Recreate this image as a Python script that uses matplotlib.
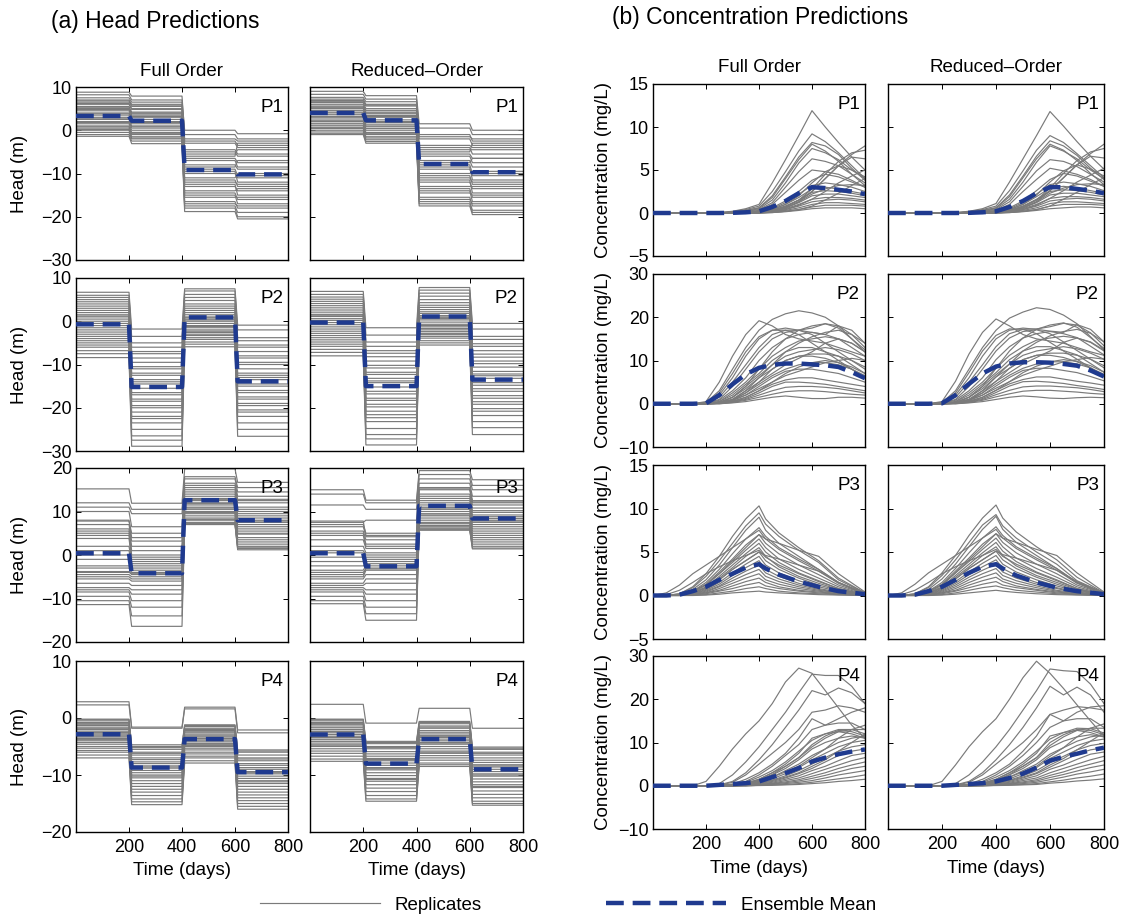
import numpy as np
import matplotlib
matplotlib.use("Agg")
import matplotlib.pyplot as plt
from matplotlib.lines import Line2D

plt.rcParams['font.family'] = ['Liberation Sans', 'DejaVu Sans']

W, H = 1125, 918

# ---------------- data ----------------
time_ticks = [200, 400, 600, 800]
head_period_start = [0, 210, 410, 610]
head_period_end = [200, 400, 600, 800]

head_p1_full = [
    [8.8, 7.9, -1.0, -2.0], [8.2, 7.0, 0.0, -0.8], [7.5, 6.5, -2.5, -3.5], [7.0, 6.0, -3.0, -4.0],
    [6.8, 5.5, -4.5, -5.5], [6.2, 5.0, -5.0, -6.0], [6.0, 4.8, -6.0, -3.0], [5.5, 4.2, -6.5, -7.5],
    [5.0, 4.0, -7.0, -8.5], [4.8, 3.5, -8.0, -9.0], [4.5, 3.0, -8.5, -7.0], [4.0, 3.2, -9.0, -10.5],
    [3.8, 2.5, -10.0, -11.0], [3.5, 2.0, -9.5, -12.0], [3.0, 1.8, -11.0, -10.0], [2.8, 1.5, -11.5, -13.0],
    [2.5, 1.0, -12.0, -12.5], [2.0, 0.8, -13.0, -14.0], [1.8, 0.5, -12.5, -15.0], [1.5, 0.0, -14.0, -13.5],
    [1.0, -0.5, -14.5, -16.0], [0.8, -1.0, -15.5, -15.5], [0.5, -0.8, -15.0, -17.0], [0.2, -1.5, -16.5, -18.0],
    [0.0, -1.8, -17.0, -17.5], [-0.5, -2.0, -17.5, -19.0], [-1.0, -2.5, -18.0, -20.0], [-1.4, -3.1, -18.8, -20.5],
    [6.5, 5.8, -2.0, -2.5], [5.2, 3.8, -5.5, -4.5],
]
head_p1_full_mean = [3.3, 2.2, -9.2, -10.2]

head_p1_red = [
    [9.0, 8.0, 1.5, 0.0], [8.3, 7.2, 0.5, -1.0], [7.6, 6.6, -1.0, -2.5], [7.2, 6.0, -2.0, -3.5],
    [6.9, 5.6, -3.5, -4.0], [6.4, 5.0, -4.0, -5.5], [6.0, 4.6, -5.0, -3.0], [5.6, 4.2, -5.5, -6.5],
    [5.2, 4.0, -6.0, -7.5], [5.0, 3.4, -7.0, -8.5], [4.6, 3.0, -7.5, -6.5], [4.2, 3.2, -8.0, -10.0],
    [4.0, 2.4, -9.0, -10.5], [3.6, 2.0, -8.5, -11.5], [3.2, 1.8, -10.0, -9.5], [3.0, 1.4, -10.5, -12.5],
    [2.6, 1.0, -11.0, -12.0], [2.2, 0.8, -12.0, -13.5], [2.0, 0.4, -11.5, -14.5], [1.6, 0.0, -13.0, -13.0],
    [1.2, -0.5, -13.5, -15.5], [1.0, -1.0, -14.5, -15.0], [0.6, -0.8, -14.0, -16.5], [0.4, -1.5, -15.5, -17.5],
    [0.0, -1.8, -16.0, -17.0], [-0.4, -2.2, -16.5, -18.5], [-0.8, -2.6, -17.0, -19.0], [-1.0, -3.0, -17.5, -19.5],
    [6.6, 5.8, -1.5, -2.0], [5.4, 3.8, -4.5, -4.5],
]
head_p1_red_mean = [4.0, 2.3, -7.8, -9.7]

head_p2_full = [
    [6.7, -1.8, 7.5, -0.9], [6.0, -3.5, 7.0, -2.0], [5.5, -5.0, 6.2, -3.8], [5.0, -6.0, 5.5, -4.5],
    [4.5, -7.0, 4.8, -5.5], [4.0, -7.5, 4.0, -6.0], [3.5, -8.5, 3.5, -7.0], [3.0, -9.5, 3.0, -8.0],
    [2.5, -10.5, 2.5, -8.5], [2.0, -11.0, 2.0, -9.5], [1.5, -12.0, 1.5, -10.0], [1.0, -12.5, 1.0, -11.0],
    [0.5, -13.5, 0.8, -12.0], [0.0, -14.5, 0.3, -12.5], [-0.5, -15.5, 0.0, -13.5], [-1.0, -16.5, -0.5, -14.5],
    [-1.5, -17.0, -1.0, -15.0], [-2.0, -18.0, -1.2, -16.0], [-2.5, -18.5, -1.5, -16.5], [-3.0, -19.5, -2.0, -17.5],
    [-3.5, -20.0, -2.3, -18.0], [-4.0, -21.0, -2.6, -19.0], [-4.5, -22.0, -3.0, -19.5], [-5.0, -22.5, -3.3, -20.5],
    [-5.5, -23.5, -3.8, -21.0], [-6.0, -25.0, -4.2, -22.0], [-6.8, -26.5, -4.8, -23.5], [-7.5, -27.5, -5.3, -25.0],
    [-8.4, -28.9, -5.9, -26.6], [1.2, -14.0, 0.5, -13.0],
]
head_p2_full_mean = [-0.7, -15.2, 0.9, -13.9]

head_p2_red = [
    [6.9, -1.5, 7.8, -0.5], [6.2, -3.2, 7.2, -1.8], [5.6, -4.8, 6.5, -3.5], [5.1, -5.8, 5.8, -4.2],
    [4.6, -6.8, 5.0, -5.2], [4.1, -7.4, 4.3, -5.8], [3.6, -8.2, 3.7, -6.8], [3.1, -9.2, 3.2, -7.6],
    [2.6, -10.2, 2.7, -8.3], [2.1, -10.8, 2.2, -9.2], [1.6, -11.8, 1.8, -9.8], [1.1, -12.3, 1.3, -10.6],
    [0.6, -13.2, 1.0, -11.6], [0.2, -14.2, 0.6, -12.2], [-0.3, -15.2, 0.3, -13.2], [-0.8, -16.2, -0.2, -14.2],
    [-1.3, -16.8, -0.7, -14.8], [-1.8, -17.8, -1.0, -15.6], [-2.3, -18.3, -1.3, -16.2], [-2.8, -19.2, -1.7, -17.2],
    [-3.3, -19.8, -2.0, -17.8], [-3.8, -20.8, -2.4, -18.6], [-4.3, -21.6, -2.8, -19.2], [-4.8, -22.3, -3.1, -20.2],
    [-5.3, -23.2, -3.5, -20.8], [-5.8, -24.8, -3.9, -21.8], [-6.5, -26.2, -4.5, -23.2], [-7.2, -27.2, -5.0, -24.6],
    [-8.0, -28.6, -5.5, -26.2], [1.4, -13.8, 0.8, -12.6],
]
head_p2_red_mean = [-0.3, -15.0, 1.1, -13.5]

head_p3_full = [
    [15.2, 11.9, 19.8, 16.7], [12.0, 10.5, 18.0, 15.5], [11.0, 9.5, 17.5, 14.5], [10.0, 6.5, 16.5, 13.5],
    [7.8, 5.0, 16.0, 12.5], [7.0, 3.2, 15.0, 12.0], [6.0, 2.0, 14.5, 11.0], [5.5, 1.0, 14.0, 10.5],
    [5.0, 0.0, 13.5, 10.0], [4.5, -0.5, 13.0, 9.5], [3.8, -1.0, 12.8, 9.0], [2.0, -1.5, 12.5, 8.5],
    [1.0, -2.0, 12.0, 8.0], [0.0, -2.5, 11.5, 7.5], [-1.0, -3.0, 11.0, 7.0], [-2.5, -3.5, 10.8, 6.5],
    [-3.0, -4.0, 10.5, 6.0], [-3.8, -4.5, 10.0, 5.5], [-4.5, -5.0, 9.8, 5.0], [-5.0, -5.5, 9.5, 4.8],
    [-5.5, -6.0, 9.0, 4.0], [-6.5, -7.0, 8.5, 3.5], [-7.5, -8.0, 8.2, 3.0], [-8.0, -9.0, 8.0, 2.5],
    [-8.5, -10.5, 7.5, 2.0], [-9.5, -12.0, 7.2, 1.8], [-10.5, -14.0, 7.1, 1.5], [-11.4, -16.4, 7.0, 1.2],
    [8.0, 4.0, 15.5, 12.8], [-4.0, -4.2, 11.8, 7.8],
]
head_p3_full_mean = [0.4, -4.2, 12.6, 8.0]

head_p3_red = [
    [15.0, 12.6, 19.4, 17.3], [14.0, 12.0, 18.5, 16.0], [11.5, 10.5, 17.5, 15.0], [7.5, 8.0, 16.5, 13.5],
    [7.0, 5.0, 15.5, 12.5], [6.5, 4.5, 15.0, 12.0], [5.5, 3.5, 14.0, 11.5], [5.0, 2.5, 13.5, 10.8],
    [4.5, 2.0, 13.0, 10.2], [3.5, 1.5, 12.5, 9.8], [2.0, 0.5, 12.0, 9.2], [1.0, 0.0, 11.5, 8.8],
    [0.5, -0.5, 11.0, 8.4], [-0.5, -1.0, 10.5, 8.0], [-1.5, -1.5, 10.0, 7.5], [-2.5, -2.0, 9.5, 7.0],
    [-3.5, -2.5, 9.2, 6.5], [-4.5, -3.0, 9.0, 6.0], [-5.0, -3.5, 8.5, 5.5], [-5.5, -4.5, 8.0, 5.0],
    [-6.5, -5.5, 7.5, 4.5], [-7.0, -6.5, 7.2, 4.0], [-7.5, -8.0, 6.8, 3.5], [-8.0, -9.0, 6.5, 3.0],
    [-8.5, -10.5, 6.2, 2.5], [-9.5, -12.0, 6.0, 2.0], [-10.5, -13.5, 5.8, 1.6], [-11.2, -15.0, 5.7, 1.4],
    [7.8, 4.2, 15.2, 12.2], [-4.0, -3.2, 10.8, 7.8],
]
head_p3_red_mean = [0.4, -2.6, 11.3, 8.4]

head_p4_full = [
    [2.85, -1.6, 1.9, -2.1], [2.3, -1.8, 1.6, -2.6],
    [-0.2, -4.7, -1.2, -5.6], [-0.5, -5.0, -1.5, -6.0], [-0.8, -5.5, -1.8, -6.5], [-1.0, -6.0, -2.0, -7.0],
    [-1.3, -6.5, -2.3, -7.5], [-1.6, -7.0, -2.5, -8.0], [-1.8, -7.3, -2.8, -8.3], [-2.0, -7.7, -3.0, -8.7],
    [-2.3, -8.0, -3.2, -9.0], [-2.5, -8.4, -3.5, -9.4], [-2.8, -8.8, -3.7, -9.8], [-3.0, -9.2, -4.0, -10.2],
    [-3.2, -9.6, -4.2, -10.6], [-3.5, -10.0, -4.5, -11.0], [-3.8, -10.5, -4.8, -11.5], [-4.0, -11.0, -5.0, -12.0],
    [-4.3, -11.5, -5.3, -12.5], [-4.6, -12.0, -5.6, -13.0], [-5.0, -12.5, -6.0, -13.5], [-5.3, -13.0, -6.3, -14.0],
    [-5.7, -13.6, -6.7, -14.5], [-6.0, -14.2, -7.0, -15.0], [-6.5, -14.7, -7.5, -15.5], [-7.0, -15.2, -7.9, -16.0],
    [-1.2, -6.2, -2.2, -7.2], [-2.6, -8.6, -3.6, -9.6], [-3.6, -10.2, -4.6, -11.2], [-0.3, -5.2, -1.3, -5.8],
]
head_p4_full_mean = [-2.85, -8.7, -3.7, -9.5]

head_p4_red = [
    [2.4, -0.9, 1.7, -1.8],
    [-0.2, -4.1, -0.6, -5.1], [-0.5, -4.5, -1.0, -5.5], [-0.8, -5.0, -1.4, -6.0], [-1.1, -5.4, -1.8, -6.5],
    [-1.4, -5.9, -2.2, -7.0], [-1.7, -6.3, -2.5, -7.4], [-2.0, -6.7, -2.8, -7.8], [-2.3, -7.1, -3.1, -8.2],
    [-2.6, -7.5, -3.4, -8.6], [-2.9, -7.9, -3.7, -9.0], [-3.2, -8.3, -4.0, -9.4], [-3.5, -8.7, -4.3, -9.8],
    [-3.8, -9.1, -4.6, -10.2], [-4.1, -9.6, -5.0, -10.7], [-4.4, -10.1, -5.4, -11.2], [-4.7, -10.6, -5.8, -11.7],
    [-5.0, -11.1, -6.2, -12.2], [-5.4, -11.7, -6.6, -12.8], [-5.8, -12.3, -7.0, -13.4], [-6.2, -12.9, -7.4, -14.0],
    [-6.7, -13.6, -7.9, -14.6], [-7.2, -14.2, -8.2, -15.0], [-7.6, -14.6, -8.5, -15.3], [-1.0, -5.2, -1.6, -6.2],
    [-2.4, -7.3, -3.3, -8.4], [-3.4, -8.9, -4.4, -10.0], [-0.3, -4.3, -0.8, -5.3], [-4.9, -10.8, -6.0, -12.0],
]
head_p4_red_mean = [-2.9, -8.0, -3.7, -9.0]

# concentration data (time grids per well)
conc_p1_time = [0, 250, 300, 350, 400, 450, 500, 550, 600, 650, 700, 750, 800]
conc_p1_full = [
    [0, 0.05, 0.2, 0.5, 1.0, 3.5, 6.2, 9.0, 11.9, 10.0, 8.2, 6.5, 5.0],
    [0, 0.03, 0.15, 0.4, 0.8, 2.5, 4.8, 7.2, 9.2, 8.3, 7.0, 5.5, 4.0],
    [0, 0.02, 0.1, 0.3, 0.6, 2.0, 4.2, 6.5, 8.2, 7.8, 6.8, 5.2, 3.8],
    [0, 0.02, 0.1, 0.3, 0.6, 1.8, 4.0, 6.2, 8.0, 7.2, 6.0, 4.5, 3.2],
    [0, 0, 0.08, 0.2, 0.5, 1.5, 3.5, 5.8, 7.5, 7.0, 6.2, 5.0, 4.0],
    [0, 0, 0.05, 0.2, 0.4, 1.2, 3.0, 4.8, 6.3, 6.0, 5.5, 4.5, 3.5],
    [0, 0, 0.05, 0.15, 0.3, 1.0, 2.4, 3.8, 5.0, 4.8, 4.5, 3.8, 3.0],
    [0, 0, 0, 0.05, 0.1, 0.3, 0.8, 1.5, 2.5, 4.0, 5.5, 6.8, 7.8],
    [0, 0, 0, 0.05, 0.1, 0.3, 0.7, 1.5, 2.8, 4.5, 6.0, 7.0, 7.3],
    [0, 0, 0, 0, 0.05, 0.2, 0.6, 1.3, 2.5, 4.0, 5.5, 6.5, 6.3],
    [0, 0, 0, 0.05, 0.1, 0.4, 1.0, 2.0, 3.5, 4.8, 5.5, 5.0, 4.2],
    [0, 0, 0.02, 0.1, 0.2, 0.6, 1.4, 2.5, 3.8, 4.5, 4.2, 3.6, 3.0],
    [0, 0, 0.02, 0.08, 0.15, 0.5, 1.2, 2.2, 3.2, 3.5, 3.3, 3.0, 2.5],
    [0, 0, 0, 0.05, 0.1, 0.4, 1.0, 1.8, 2.8, 3.0, 2.8, 2.5, 2.2],
    [0, 0, 0, 0.03, 0.08, 0.3, 0.8, 1.5, 2.4, 2.6, 2.5, 2.3, 2.0],
    [0, 0, 0, 0.02, 0.05, 0.2, 0.6, 1.2, 2.0, 2.2, 2.2, 2.0, 1.8],
    [0, 0, 0, 0.02, 0.05, 0.2, 0.5, 1.0, 1.6, 1.8, 1.8, 1.7, 1.5],
    [0, 0, 0, 0, 0.03, 0.1, 0.4, 0.8, 1.3, 1.5, 1.6, 1.5, 1.3],
    [0, 0, 0, 0, 0.02, 0.1, 0.3, 0.6, 1.0, 1.2, 1.2, 1.1, 1.0],
    [0, 0, 0, 0, 0.02, 0.08, 0.2, 0.4, 0.7, 0.9, 0.9, 0.9, 0.8],
    [0, 0, 0, 0, 0, 0.05, 0.15, 0.3, 0.5, 0.6, 0.6, 0.6, 0.5],
    [0, 0, 0, 0, 0.05, 0.15, 0.4, 0.9, 1.6, 2.5, 3.5, 4.3, 5.0],
    [0, 0, 0, 0, 0, 0.05, 0.2, 0.4, 0.8, 1.5, 2.3, 3.2, 4.0],
    [0, 0, 0, 0.02, 0.05, 0.2, 0.6, 1.3, 2.2, 2.8, 3.2, 3.3, 3.2],
]
conc_p1_full_mean = [0, 0, 0.02, 0.08, 0.2, 0.7, 1.4, 2.3, 3.0, 2.9, 2.7, 2.5, 2.2]

conc_p1_red = [
    [0, 0.05, 0.2, 0.5, 1.1, 3.6, 6.3, 9.0, 11.8, 10.1, 8.3, 6.6, 5.1],
    [0, 0.03, 0.15, 0.4, 0.8, 2.6, 4.9, 7.3, 9.0, 8.2, 6.9, 5.5, 4.1],
    [0, 0.02, 0.1, 0.3, 0.6, 2.1, 4.3, 6.6, 8.4, 7.8, 6.7, 5.2, 3.9],
    [0, 0.02, 0.1, 0.3, 0.6, 1.9, 4.1, 6.3, 8.0, 7.3, 6.1, 4.6, 3.3],
    [0, 0, 0.08, 0.2, 0.5, 1.6, 3.6, 5.9, 7.8, 7.2, 6.3, 5.0, 4.0],
    [0, 0, 0.05, 0.2, 0.4, 1.3, 3.1, 4.9, 6.2, 6.0, 5.4, 4.5, 3.6],
    [0, 0, 0.05, 0.15, 0.3, 1.0, 2.5, 3.9, 5.2, 4.9, 4.5, 3.9, 3.1],
    [0, 0, 0, 0.05, 0.1, 0.3, 0.8, 1.6, 2.6, 4.1, 5.6, 6.9, 8.0],
    [0, 0, 0, 0.05, 0.1, 0.3, 0.7, 1.5, 2.9, 4.6, 6.1, 7.1, 7.5],
    [0, 0, 0, 0, 0.05, 0.2, 0.6, 1.3, 2.6, 4.1, 5.6, 6.6, 6.4],
    [0, 0, 0, 0.05, 0.1, 0.4, 1.0, 2.1, 3.6, 4.9, 5.6, 5.1, 4.3],
    [0, 0, 0.02, 0.1, 0.2, 0.6, 1.4, 2.6, 3.9, 4.6, 4.3, 3.7, 3.1],
    [0, 0, 0.02, 0.08, 0.15, 0.5, 1.2, 2.2, 3.3, 3.6, 3.4, 3.1, 2.6],
    [0, 0, 0, 0.05, 0.1, 0.4, 1.0, 1.9, 2.9, 3.1, 2.9, 2.6, 2.3],
    [0, 0, 0, 0.03, 0.08, 0.3, 0.8, 1.5, 2.5, 2.7, 2.6, 2.4, 2.1],
    [0, 0, 0, 0.02, 0.05, 0.2, 0.6, 1.2, 2.1, 2.3, 2.3, 2.1, 1.9],
    [0, 0, 0, 0.02, 0.05, 0.2, 0.5, 1.0, 1.7, 1.9, 1.9, 1.8, 1.6],
    [0, 0, 0, 0, 0.03, 0.1, 0.4, 0.8, 1.4, 1.6, 1.7, 1.6, 1.4],
    [0, 0, 0, 0, 0.02, 0.1, 0.3, 0.6, 1.1, 1.3, 1.3, 1.2, 1.1],
    [0, 0, 0, 0, 0.02, 0.08, 0.2, 0.4, 0.8, 1.0, 1.0, 1.0, 0.9],
    [0, 0, 0, 0, 0, 0.05, 0.15, 0.3, 0.5, 0.6, 0.7, 0.7, 0.6],
    [0, 0, 0, 0, 0.05, 0.15, 0.4, 0.9, 1.7, 2.6, 3.6, 4.4, 5.2],
    [0, 0, 0, 0, 0, 0.05, 0.2, 0.4, 0.8, 1.6, 2.4, 3.3, 4.1],
    [0, 0, 0, 0.02, 0.05, 0.2, 0.6, 1.3, 2.3, 2.9, 3.3, 3.4, 3.3],
]
conc_p1_red_mean = [0, 0, 0.02, 0.08, 0.2, 0.7, 1.4, 2.3, 3.0, 3.0, 2.8, 2.6, 2.3]

conc_p2_time = [0, 150, 200, 250, 300, 350, 400, 450, 500, 550, 600, 650, 700, 750, 800]
conc_p2_full = [
    [0, 0, 0.5, 5, 11, 16, 19.2, 18, 16, 15, 14.5, 14, 13, 12, 11],
    [0, 0, 0.3, 3, 8, 13, 17, 19.5, 20.8, 21.5, 21, 20, 18, 15, 12],
    [0, 0, 0.2, 2, 6, 11, 15, 17, 17.5, 17, 16.5, 16, 18, 17, 14],
    [0, 0, 0.1, 1.5, 5, 9, 13, 16, 17, 17, 17.5, 18.5, 18, 16, 13],
    [0, 0, 0.1, 1, 4, 8, 12, 15, 16.5, 17, 16, 14, 12, 10, 8],
    [0, 0, 0.05, 0.8, 3, 6, 10, 13, 15, 16, 16.5, 16, 15, 13, 11],
    [0, 0, 0.05, 0.5, 2.5, 5, 8, 11, 13, 14.5, 15, 15.5, 15, 14, 12],
    [0, 0, 0.05, 0.5, 2, 4.5, 7, 10, 12, 13, 13, 12, 11, 9, 7],
    [0, 0, 0, 0.3, 1.5, 4, 6.5, 9, 11, 12, 12.5, 13, 12.5, 11.5, 10],
    [0, 0, 0, 0.3, 1.5, 3.5, 6, 8, 10, 11, 11, 10.5, 9.5, 8, 6.5],
    [0, 0, 0, 0.2, 1, 3, 5, 7, 9, 10.5, 12, 14, 15, 14, 12],
    [0, 0, 0, 0.2, 1, 2.5, 4.5, 6.5, 8, 9, 9.5, 9.5, 9, 8, 6],
    [0, 0, 0, 0.2, 0.8, 2, 4, 6, 7.5, 8, 8, 7.5, 7, 6, 5],
    [0, 0, 0, 0.1, 0.8, 2, 3.5, 5, 6.5, 7.5, 8.5, 9.5, 10, 10.5, 10],
    [0, 0, 0, 0.1, 0.6, 1.5, 3, 4.5, 5.5, 6, 6, 5.5, 5, 4.5, 4],
    [0, 0, 0, 0.1, 0.5, 1.2, 2.5, 4, 5, 5, 4.8, 4.5, 4, 3.5, 3],
    [0, 0, 0, 0.1, 0.4, 1, 2, 3, 3.8, 4, 4, 3.8, 3.5, 3, 2.5],
    [0, 0, 0, 0, 0.3, 0.8, 1.5, 2.2, 2.8, 3, 3, 2.8, 2.5, 2.2, 2],
    [0, 0, 0, 0, 0.2, 0.5, 1, 1.5, 1.8, 1.5, 1.2, 1.2, 1.5, 1.5, 1.3],
    [0, 0, 0, 0.2, 1.5, 4, 8, 12, 15, 17, 18, 18.5, 17.5, 15, 12.5],
    [0, 0, 0, 0.1, 1, 3, 6, 9, 12, 14, 15.5, 16.5, 17, 16, 14],
    [0, 0, 0, 0.1, 0.8, 2.5, 5, 8, 10, 11, 11.5, 11.5, 11, 10, 8.5],
    [0, 0, 0.2, 2.5, 7, 12, 15.5, 17, 17, 16, 14, 12, 10, 8, 6],
    [0, 0, 0, 0.1, 0.5, 1.5, 3, 5, 7, 8.5, 9.5, 10, 9.5, 8.5, 7],
]
conc_p2_full_mean = [0, 0, 0.1, 2.0, 4.5, 6.8, 8.3, 9.0, 9.3, 9.3, 9.1, 8.9, 8.5, 7.3, 5.9]

conc_p2_red = [
    [0, 0, 0.5, 5.2, 11.5, 16.5, 19.6, 18, 16, 15, 14.5, 14, 13, 12, 11.2],
    [0, 0, 0.3, 3, 8, 13, 17, 19.8, 21.2, 22.2, 21.8, 20.5, 18.5, 15.5, 12.5],
    [0, 0, 0.2, 2, 6, 11, 15, 17, 17.5, 17.2, 16.8, 16.5, 18.3, 17.2, 14.3],
    [0, 0, 0.1, 1.5, 5, 9, 13.2, 16.2, 17.2, 17.3, 17.8, 18.6, 18.2, 16.4, 13.4],
    [0, 0, 0.1, 1, 4, 8, 12.2, 15.2, 16.7, 17.1, 16.2, 14.3, 12.3, 10.3, 8.3],
    [0, 0, 0.05, 0.8, 3, 6, 10.2, 13.2, 15.2, 16.2, 16.7, 16.2, 15.3, 13.3, 11.3],
    [0, 0, 0.05, 0.5, 2.5, 5, 8.2, 11.2, 13.2, 14.7, 15.2, 15.6, 15.2, 14.2, 12.2],
    [0, 0, 0.05, 0.5, 2, 4.5, 7.2, 10.2, 12.2, 13.2, 13.2, 12.3, 11.3, 9.3, 7.3],
    [0, 0, 0, 0.3, 1.5, 4, 6.7, 9.2, 11.2, 12.2, 12.7, 13.2, 12.7, 11.7, 10.3],
    [0, 0, 0, 0.3, 1.5, 3.5, 6.2, 8.2, 10.2, 11.2, 11.2, 10.7, 9.7, 8.3, 6.8],
    [0, 0, 0, 0.2, 1, 3, 5.2, 7.2, 9.2, 10.7, 12.2, 14.2, 15.2, 14.3, 12.4],
    [0, 0, 0, 0.2, 1, 2.5, 4.6, 6.6, 8.2, 9.2, 9.7, 9.7, 9.2, 8.3, 6.4],
    [0, 0, 0, 0.2, 0.8, 2, 4.1, 6.1, 7.7, 8.2, 8.2, 7.7, 7.2, 6.3, 5.3],
    [0, 0, 0, 0.1, 0.8, 2, 3.6, 5.1, 6.6, 7.7, 8.7, 9.7, 10.2, 10.7, 10.3],
    [0, 0, 0, 0.1, 0.6, 1.5, 3.1, 4.6, 5.6, 6.2, 6.2, 5.7, 5.2, 4.8, 4.3],
    [0, 0, 0, 0.1, 0.5, 1.2, 2.6, 4.1, 5.1, 5.2, 5.0, 4.7, 4.2, 3.8, 3.3],
    [0, 0, 0, 0.1, 0.4, 1, 2.1, 3.1, 3.9, 4.1, 4.1, 3.9, 3.7, 3.3, 2.8],
    [0, 0, 0, 0, 0.3, 0.8, 1.6, 2.3, 2.9, 3.1, 3.1, 2.9, 2.7, 2.4, 2.2],
    [0, 0, 0, 0, 0.2, 0.5, 1, 1.5, 1.8, 1.6, 1.3, 1.2, 1.4, 1.5, 1.4],
    [0, 0, 0, 0.2, 1.5, 4, 8.2, 12.2, 15.2, 17.2, 18.2, 18.7, 17.7, 15.3, 12.8],
    [0, 0, 0, 0.1, 1, 3, 6.2, 9.2, 12.2, 14.2, 15.7, 16.7, 17.2, 16.3, 14.3],
    [0, 0, 0, 0.1, 0.8, 2.5, 5.2, 8.2, 10.2, 11.2, 11.7, 11.7, 11.2, 10.3, 8.8],
    [0, 0, 0.2, 2.5, 7.2, 12.2, 15.8, 17.3, 17.2, 16.2, 14.2, 12.2, 10.3, 8.3, 6.3],
    [0, 0, 0, 0.1, 0.5, 1.5, 3.1, 5.1, 7.2, 8.7, 9.7, 10.2, 9.8, 8.8, 7.3],
]
conc_p2_red_mean = [0, 0, 0.1, 2.0, 4.6, 7.0, 8.6, 9.3, 9.6, 9.6, 9.5, 9.2, 8.8, 7.7, 6.3]

conc_p3_time = [0, 50, 100, 150, 200, 250, 300, 350, 400, 425, 475, 550, 625, 700, 800]
conc_p3_full = [
    [0, 0, 0.2, 1.0, 2.5, 4.5, 6.8, 8.8, 10.3, 8.8, 7.2, 5.5, 4.0, 2.0, 0.3],
    [0, 0, 0.2, 0.9, 2.2, 4.0, 6.0, 8.0, 9.5, 8.2, 6.8, 5.2, 3.8, 1.8, 0.3],
    [0, 0, 0.1, 0.7, 1.8, 3.5, 5.5, 7.5, 9.0, 7.5, 6.0, 4.5, 3.0, 1.5, 0.2],
    [0, 0.3, 1.2, 2.5, 3.5, 4.5, 5.5, 6.5, 7.5, 6.5, 5.3, 4.0, 2.8, 1.4, 0.2],
    [0, 0, 0.1, 0.5, 1.5, 3.0, 4.8, 6.5, 7.8, 6.8, 5.5, 4.2, 3.0, 1.5, 0.2],
    [0, 0, 0.1, 0.5, 1.3, 2.7, 4.2, 5.8, 7.0, 6.0, 4.8, 3.5, 2.4, 1.2, 0.2],
    [0, 0, 0.05, 0.4, 1.2, 2.5, 3.8, 5.2, 6.5, 5.5, 4.2, 3.0, 2.0, 1.0, 0.15],
    [0, 0, 0.05, 0.3, 1.0, 2.2, 3.5, 4.8, 6.0, 5.0, 3.8, 2.6, 1.7, 0.8, 0.1],
    [0, 0, 0.05, 0.3, 0.9, 2.0, 3.2, 4.5, 5.5, 4.5, 3.3, 2.2, 1.4, 0.7, 0.1],
    [0, 0, 0.05, 0.3, 0.8, 1.8, 3.0, 4.0, 5.0, 4.0, 3.0, 2.0, 1.2, 0.6, 0.1],
    [0, 0, 0.03, 0.2, 0.7, 1.5, 2.6, 3.6, 4.5, 3.5, 2.6, 1.7, 1.0, 0.5, 0.1],
    [0, 0, 0.03, 0.2, 0.6, 1.3, 2.3, 3.2, 4.0, 3.0, 2.2, 1.4, 0.8, 0.4, 0.05],
    [0, 0, 0.02, 0.15, 0.5, 1.1, 2.0, 2.8, 3.5, 2.6, 1.9, 1.2, 0.7, 0.3, 0.05],
    [0, 0, 0.02, 0.1, 0.4, 1.0, 1.7, 2.4, 3.0, 2.2, 1.6, 1.0, 0.6, 0.3, 0.05],
    [0, 0, 0.02, 0.1, 0.3, 0.8, 1.4, 2.0, 2.5, 1.8, 1.3, 0.8, 0.5, 0.2, 0.03],
    [0, 0, 0, 0.1, 0.3, 0.6, 1.1, 1.6, 2.0, 1.5, 1.0, 0.6, 0.4, 0.2, 0.03],
    [0, 0, 0, 0.05, 0.2, 0.5, 0.8, 1.2, 1.5, 1.1, 0.8, 0.5, 0.3, 0.15, 0.02],
    [0, 0, 0, 0.05, 0.1, 0.3, 0.5, 0.8, 1.0, 0.8, 0.5, 0.3, 0.2, 0.1, 0.02],
    [0, 0, 0, 0, 0.05, 0.15, 0.3, 0.4, 0.5, 0.4, 0.3, 0.2, 0.1, 0.05, 0],
    [0, 0, 0.05, 0.4, 1.2, 2.5, 4.0, 5.5, 7.0, 6.5, 6.0, 5.2, 4.5, 2.5, 0.4],
    [0, 0, 0.05, 0.3, 0.9, 1.8, 3.0, 4.0, 5.0, 4.6, 4.2, 3.5, 2.8, 1.5, 0.3],
    [0, 0.1, 0.6, 1.5, 2.5, 3.3, 4.0, 4.6, 5.2, 4.4, 3.5, 2.5, 1.6, 0.8, 0.1],
]
conc_p3_full_mean = [0, 0, 0.1, 0.5, 1.0, 1.8, 2.5, 3.2, 3.6, 3.1, 2.4, 1.6, 1.0, 0.5, 0.15]

conc_p3_red = [
    [0, 0, 0.2, 1.0, 2.6, 4.6, 6.9, 8.9, 10.4, 8.9, 7.3, 5.6, 4.1, 2.1, 0.3],
    [0, 0, 0.2, 0.9, 2.3, 4.1, 6.1, 8.1, 9.3, 8.0, 6.6, 5.0, 3.6, 1.7, 0.3],
    [0, 0, 0.1, 0.7, 1.9, 3.6, 5.6, 7.6, 9.1, 7.6, 6.1, 4.6, 3.1, 1.5, 0.2],
    [0, 0.3, 1.3, 2.6, 3.6, 4.6, 5.6, 6.6, 7.6, 6.6, 5.4, 4.1, 2.9, 1.4, 0.2],
    [0, 0, 0.1, 0.5, 1.5, 3.1, 4.9, 6.6, 7.9, 6.9, 5.6, 4.3, 3.1, 1.5, 0.2],
    [0, 0, 0.1, 0.5, 1.3, 2.8, 4.3, 5.9, 7.1, 6.1, 4.9, 3.6, 2.5, 1.2, 0.2],
    [0, 0, 0.05, 0.4, 1.2, 2.6, 3.9, 5.3, 6.6, 5.6, 4.3, 3.1, 2.1, 1.0, 0.15],
    [0, 0, 0.05, 0.3, 1.0, 2.3, 3.6, 4.9, 6.1, 5.1, 3.9, 2.7, 1.8, 0.8, 0.1],
    [0, 0, 0.05, 0.3, 0.9, 2.1, 3.3, 4.6, 5.6, 4.6, 3.4, 2.3, 1.5, 0.7, 0.1],
    [0, 0, 0.05, 0.3, 0.8, 1.9, 3.1, 4.1, 5.1, 4.1, 3.1, 2.1, 1.3, 0.6, 0.1],
    [0, 0, 0.03, 0.2, 0.7, 1.6, 2.7, 3.7, 4.6, 3.6, 2.7, 1.8, 1.1, 0.5, 0.1],
    [0, 0, 0.03, 0.2, 0.6, 1.4, 2.4, 3.3, 4.1, 3.1, 2.3, 1.5, 0.9, 0.4, 0.05],
    [0, 0, 0.02, 0.15, 0.5, 1.2, 2.1, 2.9, 3.6, 2.7, 2.0, 1.3, 0.8, 0.3, 0.05],
    [0, 0, 0.02, 0.1, 0.4, 1.0, 1.8, 2.5, 3.1, 2.3, 1.7, 1.1, 0.6, 0.3, 0.05],
    [0, 0, 0.02, 0.1, 0.3, 0.8, 1.5, 2.1, 2.6, 1.9, 1.4, 0.9, 0.5, 0.2, 0.03],
    [0, 0, 0, 0.1, 0.3, 0.6, 1.2, 1.7, 2.1, 1.6, 1.1, 0.7, 0.4, 0.2, 0.03],
    [0, 0, 0, 0.05, 0.2, 0.5, 0.9, 1.3, 1.6, 1.2, 0.9, 0.6, 0.3, 0.15, 0.02],
    [0, 0, 0, 0.05, 0.1, 0.3, 0.6, 0.9, 1.1, 0.9, 0.6, 0.4, 0.2, 0.1, 0.02],
    [0, 0, 0, 0, 0.05, 0.15, 0.3, 0.45, 0.6, 0.5, 0.35, 0.2, 0.1, 0.05, 0],
    [0, 0, 0.05, 0.4, 1.2, 2.6, 4.1, 5.6, 7.1, 6.6, 6.1, 5.3, 4.6, 2.6, 0.4],
    [0, 0, 0.05, 0.3, 0.9, 1.9, 3.1, 4.1, 5.1, 4.7, 4.3, 3.6, 2.9, 1.6, 0.3],
    [0, 0.1, 0.6, 1.5, 2.5, 3.3, 4.0, 4.6, 5.3, 4.5, 3.6, 2.6, 1.7, 0.8, 0.1],
]
conc_p3_red_mean = [0, 0, 0.1, 0.5, 1.0, 1.8, 2.6, 3.3, 3.6, 3.1, 2.3, 1.5, 0.9, 0.5, 0.15]

conc_p4_time = [0, 150, 200, 250, 300, 350, 400, 450, 500, 550, 600, 650, 700, 750, 800]
conc_p4_full = [
    [0, 0, 1.0, 4.5, 8.5, 12, 15, 19, 24, 27.2, 26, 22, 18, 14, 11],
    [0, 0, 0, 0.5, 2.5, 5.5, 9, 13, 17, 21.5, 25.8, 25.5, 25.5, 23, 19],
    [0, 0, 0, 0.2, 1, 3, 6, 9.5, 13.5, 17.5, 22, 21, 22.6, 21.5, 19],
    [0, 0, 0, 0.1, 0.8, 2.5, 5, 7.5, 10, 13, 17, 17.5, 18.5, 18, 17],
    [0, 0, 0, 0, 0.4, 1.5, 3, 5, 7.5, 11, 15.5, 14, 14.5, 14.5, 13],
    [0, 0, 0, 0, 0.3, 1, 2.5, 4.5, 7, 9.5, 13, 14, 15.5, 17, 18],
    [0, 0, 0, 0, 0.2, 0.8, 2, 3.5, 5.5, 8, 10.5, 12, 13, 13, 12],
    [0, 0, 0, 0, 0.1, 0.5, 1.5, 3, 4.5, 6.5, 9, 11, 12.5, 13, 13],
    [0, 0, 0, 0, 0.1, 0.4, 1.2, 2.5, 4, 6, 8.5, 10, 11, 11.5, 11],
    [0, 0, 0, 0, 0.1, 0.3, 1, 2, 3.5, 5, 7, 8.5, 10, 11, 11.5],
    [0, 0, 0, 0, 0, 0.2, 0.8, 1.6, 2.8, 4.2, 6, 7.5, 9, 10, 10.5],
    [0, 0, 0, 0, 0, 0.2, 0.6, 1.3, 2.3, 3.5, 5, 6.5, 8, 9, 9.5],
    [0, 0, 0, 0, 0, 0.1, 0.5, 1, 1.8, 2.8, 4, 5.5, 7, 8, 8.5],
    [0, 0, 0, 0, 0, 0.1, 0.4, 0.8, 1.5, 2.3, 3.5, 4.5, 5.8, 7, 7.5],
    [0, 0, 0, 0, 0, 0.1, 0.3, 0.6, 1.2, 1.8, 2.8, 3.8, 4.8, 5.8, 6.5],
    [0, 0, 0, 0, 0, 0.05, 0.2, 0.5, 0.9, 1.4, 2.2, 3, 4, 4.8, 5.5],
    [0, 0, 0, 0, 0, 0.05, 0.15, 0.4, 0.7, 1.1, 1.7, 2.4, 3.2, 4, 4.5],
    [0, 0, 0, 0, 0, 0, 0.1, 0.3, 0.5, 0.8, 1.2, 1.8, 2.5, 3, 3.5],
    [0, 0, 0, 0, 0, 0, 0.1, 0.2, 0.3, 0.5, 0.8, 1.2, 1.6, 2, 2.5],
    [0, 0, 0, 0, 0, 0, 0.05, 0.1, 0.2, 0.3, 0.5, 0.7, 1, 1.2, 1.5],
    [0, 0, 0, 0, 0.2, 0.6, 1.5, 3, 5, 7.5, 11, 12, 12.5, 12, 11],
    [0, 0, 0, 0, 0.1, 0.5, 1.3, 2.6, 4.5, 6.5, 9.5, 11.5, 12.8, 12.5, 11.5],
    [0, 0, 0, 0, 0.1, 0.4, 1, 2, 3.2, 4.5, 6.5, 8.5, 11, 13, 14],
    [0, 0, 0, 0, 0, 0.2, 0.6, 1.2, 2, 3, 4.5, 6, 8, 10, 12],
]
conc_p4_full_mean = [0, 0, 0, 0.2, 0.4, 0.6, 1.0, 2.0, 2.9, 4.1, 5.6, 6.5, 7.3, 7.9, 8.4]

conc_p4_red = [
    [0, 0, 1.0, 4.8, 9, 12.5, 15.5, 20, 25, 28.8, 26, 22.5, 18.7, 15, 11.4],
    [0, 0, 0, 0.5, 2.5, 5.5, 9, 13, 17.5, 22, 27, 26.6, 26.4, 23.5, 19],
    [0, 0, 0, 0.2, 1, 3, 6, 9.5, 13.5, 18, 23, 21, 22.8, 21, 17],
    [0, 0, 0, 0.1, 0.8, 2.5, 5, 7.5, 10, 13, 16.5, 17.5, 18.3, 18, 17.5],
    [0, 0, 0, 0, 0.4, 1.5, 3, 5, 8, 11.5, 16.5, 15, 15.5, 15.5, 13.5],
    [0, 0, 0, 0, 0.3, 1, 2.5, 4.5, 7, 10, 13.5, 15, 17, 18.2, 18.5],
    [0, 0, 0, 0, 0.2, 0.8, 2, 3.5, 5.5, 8, 10.8, 12.3, 13.3, 13.2, 12.2],
    [0, 0, 0, 0, 0.1, 0.5, 1.5, 3, 4.5, 6.5, 9.3, 11.3, 12.8, 13.3, 13.3],
    [0, 0, 0, 0, 0.1, 0.4, 1.2, 2.5, 4, 6, 8.8, 10.3, 11.3, 11.8, 11.3],
    [0, 0, 0, 0, 0.1, 0.3, 1, 2, 3.5, 5, 7.3, 8.8, 10.3, 11.3, 11.8],
    [0, 0, 0, 0, 0, 0.2, 0.8, 1.6, 2.8, 4.2, 6.3, 7.8, 9.3, 10.3, 10.8],
    [0, 0, 0, 0, 0, 0.2, 0.6, 1.3, 2.3, 3.5, 5.3, 6.8, 8.3, 9.3, 9.8],
    [0, 0, 0, 0, 0, 0.1, 0.5, 1, 1.8, 2.8, 4.3, 5.8, 7.3, 8.3, 8.8],
    [0, 0, 0, 0, 0, 0.1, 0.4, 0.8, 1.5, 2.3, 3.8, 4.8, 6.1, 7.3, 7.8],
    [0, 0, 0, 0, 0, 0.1, 0.3, 0.6, 1.2, 1.8, 3.0, 4.0, 5.0, 6.0, 6.8],
    [0, 0, 0, 0, 0, 0.05, 0.2, 0.5, 0.9, 1.4, 2.4, 3.2, 4.2, 5.0, 5.8],
    [0, 0, 0, 0, 0, 0.05, 0.15, 0.4, 0.7, 1.1, 1.9, 2.6, 3.4, 4.2, 4.8],
    [0, 0, 0, 0, 0, 0, 0.1, 0.3, 0.5, 0.8, 1.4, 2.0, 2.7, 3.2, 3.8],
    [0, 0, 0, 0, 0, 0, 0.1, 0.2, 0.3, 0.5, 0.9, 1.3, 1.8, 2.2, 2.7],
    [0, 0, 0, 0, 0, 0, 0.05, 0.1, 0.2, 0.3, 0.6, 0.8, 1.1, 1.3, 1.6],
    [0, 0, 0, 0, 0.2, 0.6, 1.5, 3, 5, 7.5, 11.5, 12.3, 12.8, 12.3, 11.3],
    [0, 0, 0, 0, 0.1, 0.5, 1.3, 2.6, 4.5, 6.5, 10, 11.8, 13, 12.8, 11.8],
    [0, 0, 0, 0, 0.1, 0.4, 1, 2, 3.2, 4.5, 6.8, 8.8, 11.3, 13.3, 14.3],
    [0, 0, 0, 0, 0, 0.2, 0.6, 1.2, 2, 3, 4.8, 6.3, 8.3, 10.3, 12.3],
]
conc_p4_red_mean = [0, 0, 0, 0.2, 0.4, 0.6, 1.0, 1.8, 2.8, 4.2, 5.8, 6.7, 7.4, 8.2, 8.8]

well_labels = ["P1", "P2", "P3", "P4"]
head_ylims = [(-30, 10), (-30, 10), (-20, 20), (-20, 10)]
head_yticks = [[-30, -20, -10, 0, 10], [-30, -20, -10, 0, 10], [-20, -10, 0, 10, 20], [-20, -10, 0, 10]]
conc_ylims = [(-5, 15), (-10, 30), (-5, 15), (-10, 30)]
conc_yticks = [[-5, 0, 5, 10, 15], [-10, 0, 10, 20, 30], [-5, 0, 5, 10, 15], [-10, 0, 10, 20, 30]]

head_sets = [
    (head_p1_full, head_p1_full_mean, head_p1_red, head_p1_red_mean),
    (head_p2_full, head_p2_full_mean, head_p2_red, head_p2_red_mean),
    (head_p3_full, head_p3_full_mean, head_p3_red, head_p3_red_mean),
    (head_p4_full, head_p4_full_mean, head_p4_red, head_p4_red_mean),
]
conc_sets = [
    (conc_p1_time, conc_p1_full, conc_p1_full_mean, conc_p1_red, conc_p1_red_mean),
    (conc_p2_time, conc_p2_full, conc_p2_full_mean, conc_p2_red, conc_p2_red_mean),
    (conc_p3_time, conc_p3_full, conc_p3_full_mean, conc_p3_red, conc_p3_red_mean),
    (conc_p4_time, conc_p4_full, conc_p4_full_mean, conc_p4_red, conc_p4_red_mean),
]

# ---------------- style / layout ----------------
REP_COLOR = "#7a7a7a"
REP_LW = 0.85
MEAN_COLOR = "#1f3a8f"
MEAN_LW = 3.2
MEAN_DASH = (4, 2)
TICK_FS = 13
LABEL_FS = 13.5

head_cols_px = [(76, 288), (310, 523)]
conc_cols_px = [(653, 865), (888, 1104)]
head_rows_px = [(87, 260), (278, 451), (468, 642), (661, 832)]
conc_rows_px = [(84, 256), (274, 447), (465, 639), (656, 829)]

fig = plt.figure(figsize=(W / 100, H / 100), dpi=100)


def make_axes(col, row):
    l, r = col
    t, b = row
    return fig.add_axes([l / W, 1 - b / H, (r - l) / W, (b - t) / H])


def style_axes(ax, ylim, yticks, show_y, show_x, label):
    ax.set_xlim(0, 800)
    ax.set_ylim(*ylim)
    ax.set_xticks(time_ticks)
    ax.set_yticks(yticks)
    ax.tick_params(direction="in", top=True, right=True, length=3.5, width=0.7,
                   labelsize=TICK_FS)
    ax.tick_params(axis="x", pad=5.0)
    ax.tick_params(axis="y", pad=3.0)
    if not show_y:
        ax.set_yticklabels([])
    if not show_x:
        ax.set_xticklabels([])
    for s in ax.spines.values():
        s.set_linewidth(1.0)
    ax.text(1 - 5 / 212, 1 - 25 / 173, label, transform=ax.transAxes, ha="right",
            va="baseline", fontsize=LABEL_FS, zorder=10)


def step_xy(levels):
    xs, ys = [], []
    for s, e, v in zip(head_period_start, head_period_end, levels):
        xs += [s, e]
        ys += [v, v]
    return xs, ys


for i in range(4):
    full, full_mean, red, red_mean = head_sets[i]
    for j, (reps, mean) in enumerate([(full, full_mean), (red, red_mean)]):
        ax = make_axes(head_cols_px[j], head_rows_px[i])
        for rep in reps:
            xs, ys = step_xy(rep)
            ax.plot(xs, ys, color=REP_COLOR, lw=REP_LW, zorder=2)
        xs, ys = step_xy(mean)
        ax.plot(xs, ys, color=MEAN_COLOR, lw=MEAN_LW, dashes=MEAN_DASH, zorder=3)
        style_axes(ax, head_ylims[i], head_yticks[i], j == 0, i == 3, well_labels[i])

    tgrid, full, full_mean, red, red_mean = conc_sets[i]
    for j, (reps, mean) in enumerate([(full, full_mean), (red, red_mean)]):
        ax = make_axes(conc_cols_px[j], conc_rows_px[i])
        for rep in reps:
            ax.plot(tgrid, rep, color=REP_COLOR, lw=REP_LW, zorder=2)
        ax.plot(tgrid, mean, color=MEAN_COLOR, lw=MEAN_LW, dashes=MEAN_DASH, zorder=3)
        style_axes(ax, conc_ylims[i], conc_yticks[i], j == 0, i == 3, well_labels[i])

# y labels
for (t, b) in head_rows_px:
    fig.text(19 / W, 1 - (t + b) / 2 / H, "Head (m)", rotation=90, ha="center",
             va="center", fontsize=LABEL_FS)
for (t, b) in conc_rows_px:
    fig.text(604 / W, 1 - (t + b) / 2 / H, "Concentration (mg/L)", rotation=90,
             ha="center", va="center", fontsize=LABEL_FS)

# x labels
for (l, r) in head_cols_px:
    fig.text((l + r) / 2 / W, 1 - 875 / H, "Time (days)", ha="center", va="baseline",
             fontsize=LABEL_FS)
for (l, r) in conc_cols_px:
    fig.text((l + r) / 2 / W, 1 - 873 / H, "Time (days)", ha="center", va="baseline",
             fontsize=LABEL_FS)

# column titles
col_titles = ["Full Order", "Reduced\u2013Order"]
for (l, r), txt in zip(head_cols_px, col_titles):
    fig.text((l + r) / 2 / W, 1 - 76 / H, txt, ha="center", va="baseline", fontsize=LABEL_FS)
for (l, r), txt in zip(conc_cols_px, col_titles):
    fig.text((l + r) / 2 / W, 1 - 72 / H, txt, ha="center", va="baseline", fontsize=LABEL_FS)

# group titles
fig.text(51 / W, 1 - 28 / H, "(a) Head Predictions", ha="left", va="baseline", fontsize=16.5)
fig.text(612 / W, 1 - 24 / H, "(b) Concentration Predictions", ha="left", va="baseline",
         fontsize=16.5)

# legend
handles = [Line2D([], [], color=REP_COLOR, lw=REP_LW),
           Line2D([], [], color=MEAN_COLOR, lw=MEAN_LW, dashes=MEAN_DASH)]
fig.legend(handles, ["Replicates", "Ensemble Mean"], loc="center left",
           bbox_to_anchor=(260 / W, 1 - 905 / H), ncol=2, frameon=False,
           fontsize=LABEL_FS, handlelength=6.4, handletextpad=0.8, columnspacing=6.6,
           borderpad=0, borderaxespad=0)

fig.savefig("out.png", dpi=100)
